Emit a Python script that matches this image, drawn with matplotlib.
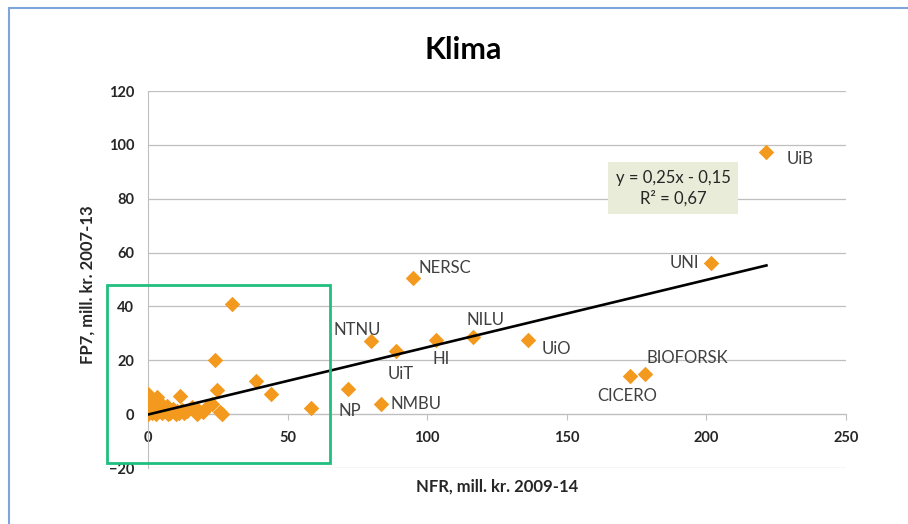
import numpy as np
import matplotlib.pyplot as plt
from matplotlib.patches import Rectangle

plt.rcParams['font.family'] = ['Lato', 'DejaVu Sans']

# named institutions (NFR, FP7)
names = ['UiB', 'UNI', 'NERSC', 'NTNU', 'UiT', 'HI', 'NILU', 'UiO', 'NP', 'NMBU', 'CICERO', 'BIOFORSK']
nfr_named = [221.5, 201.5, 95, 80, 89, 103, 116.5, 136, 71.5, 83.5, 172.5, 178]
fp7_named = [97.5, 56, 50.5, 27, 23.5, 27.5, 28.5, 27.5, 9.2, 3.7, 14, 15]
# label offsets in pixels (dx, dy, ha)
label_off = [(20, -7, 'left'), (-11, 0, 'right'), (5, 10, 'left'), (-38, 11, 'left'),
             (-9, -23, 'left'), (-3, -19, 'left'), (-7, 17, 'left'), (14, -9, 'left'),
             (-9, -22, 'left'), (9, 0, 'left'), (-32, -20, 'left'), (2, 16, 'left')]

# unlabelled small institutions
nfr_small = [30, 24, 24.8, 38.7, 44, 58.4, 26.6, 11.6, 0.1, 3.1, 21.1, 22.9, 17.4, 15.6,
             19.7, 6.7, 4.3, 0, 0.5, 1, 1.5, 2, 2.5, 3, 3.5, 4, 5, 5.5, 6, 7, 7.5, 8, 9,
             10, 10.5, 11, 12, 13, 14, 1, 2, 0.5, 9, 5, 18, 25.8]
fp7_small = [40.8, 20.2, 8.9, 12.3, 7.3, 2.3, 0.2, 6.7, 7.4, 6.4, 2.7, 3.7, 0.2, 2.7,
             0.8, 3.0, 1.5, 0, 1, 2, 0.5, 3, 1, 0, 2, 4.5, 0.5, 2, 1, 0, 1.5, 0.5, 1,
             0, 1, 0.5, 1.5, 0.3, 1.2, 5, 4, 3, 2, 3.5, 1.5, 0.9]

slope, intercept = 0.25, -0.15

fig = plt.figure(figsize=(9.08, 5.24), dpi=100)
ax = fig.add_axes([148/908, 1 - 468/524, 698/908, 377/524])

orange = '#f39a1e'
ax.scatter(nfr_small, fp7_small, marker='D', s=62, color=orange, zorder=3, linewidths=0)
ax.scatter(nfr_named, fp7_named, marker='D', s=62, color=orange, zorder=3, linewidths=0)

xs = np.array([0, max(nfr_named)])
ax.plot(xs, slope * xs + intercept, color='black', lw=1.9, zorder=4)

for n, x, y, (dx, dy, ha) in zip(names, nfr_named, fp7_named, label_off):
    ax.annotate(n, (x, y), xytext=(dx, dy), textcoords='offset pixels',
                ha=ha, va='center', fontsize=12, color='#404040', zorder=5)

ax.set_xlim(0, 250)
ax.set_ylim(-20, 120)
ax.set_yticks(range(-20, 121, 20))
ax.set_xticks(range(0, 251, 50))
ax.grid(axis='y', color='#bfbfbf', lw=0.9)
ax.set_axisbelow(True)
ax.spines['top'].set_visible(False)
ax.spines['right'].set_visible(False)
ax.spines['bottom'].set_position(('data', 0))
ax.spines['bottom'].set_color('#bfbfbf')
ax.spines['left'].set_color('#bfbfbf')
ax.tick_params(axis='x', length=4, color='#bfbfbf', pad=8)
ax.tick_params(axis='y', length=0, pad=10)
for lab in ax.get_xticklabels() + ax.get_yticklabels():
    lab.set_fontweight('bold')
    lab.set_fontsize(10.5)
    lab.set_color('#262626')

fig.text(497/908, 1 - 487/524, 'NFR, mill. kr. 2009-14', ha='center', va='center',
         fontsize=12, fontweight='bold', color='#262626')
fig.text(88/908, 1 - 285/524, 'FP7, mill. kr. 2007-13', ha='center', va='center',
         rotation=90, fontsize=12, fontweight='bold', color='#262626')
fig.text(463/908, 1 - 50/524, 'Klima', ha='center', va='center',
         fontsize=22, fontweight='bold', color='black')

# trendline equation box
fig.text(673/908, 1 - 188/524, 'y = 0,25x - 0,15\nR² = 0,67', ha='center', va='center',
         fontsize=12, color='#262626', linespacing=1.3, zorder=7,
         bbox=dict(boxstyle='square,pad=0.45', fc='#e8ecd8', ec='none'))

# green highlight box around the small institutions
ax.add_patch(Rectangle((-14.7, -18.1), 79.9, 65.9, fill=False, ec='#1fbf7f', lw=2,
                       clip_on=False, zorder=6))

# light blue frame
fig.add_artist(Rectangle((9/908, -0.01), 1.02, 1 - 8/524 + 0.01, transform=fig.transFigure,
                         fill=False, ec='#7ea6dd', lw=1.5))

fig.savefig('out.png', dpi=100)
